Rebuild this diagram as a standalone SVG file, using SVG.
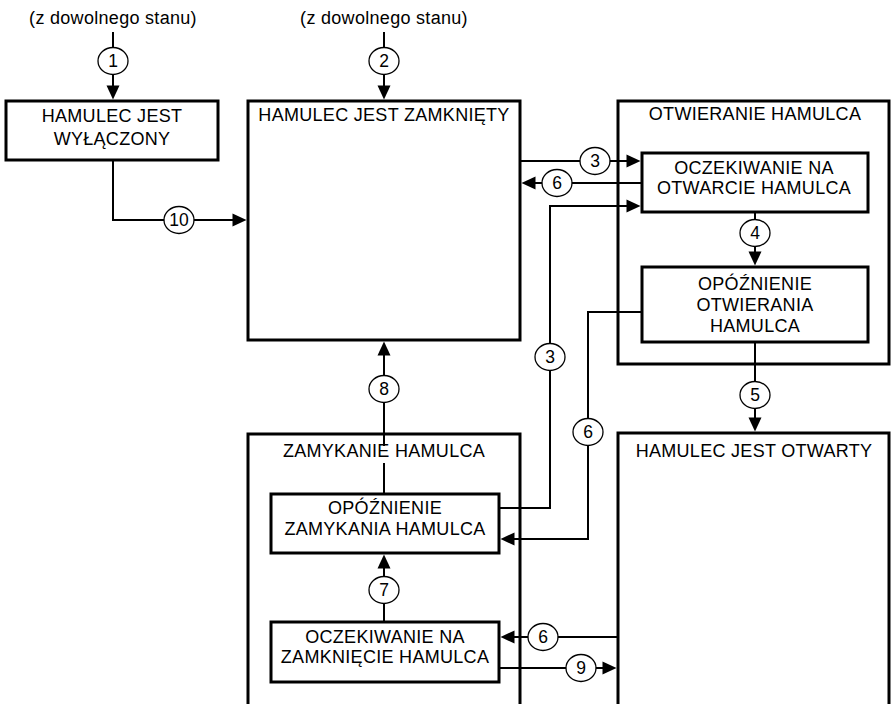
<svg xmlns="http://www.w3.org/2000/svg" width="892" height="704" viewBox="0 0 892 704">
  <style>
    text { font-family: "Liberation Sans", Arial, sans-serif; font-size: 18px; letter-spacing: 0.3px; fill: #000; text-anchor: middle; }
    .box { fill: none; stroke: #000; stroke-width: 3; }
    .wire { fill: none; stroke: #000; stroke-width: 2; }
    .tip { fill: #000; stroke: none; }
    .tag ellipse { fill: #fff; stroke: #000; stroke-width: 1.3; }
    .tag text { font-size: 17.5px; letter-spacing: 0; }
  </style>
  <defs>
    <!-- arrowhead pointing in +x, tip at origin -->
    <polygon id="head" points="0,0 -14,-6.5 -14,6.5"/>
  </defs>

  <!-- entry labels -->
  <text x="113" y="24">(z dowolnego stanu)</text>
  <text x="384" y="24">(z dowolnego stanu)</text>

  <!-- states -->
  <g id="hamulec-wylaczony">
    <rect class="box" x="6" y="101" width="212" height="59"/>
    <text x="112" y="122">HAMULEC JEST</text>
    <text x="112" y="145">WYŁĄCZONY</text>
  </g>

  <g id="hamulec-zamkniety">
    <rect class="box" x="248" y="101" width="272" height="239"/>
    <text x="384" y="121">HAMULEC JEST ZAMKNIĘTY</text>
  </g>

  <g id="otwieranie-hamulca">
    <rect class="box" x="618" y="101" width="271" height="263"/>
    <text x="755" y="120">OTWIERANIE HAMULCA</text>
  </g>

  <g id="oczekiwanie-na-otwarcie">
    <rect class="box" x="642" y="153" width="226" height="59"/>
    <text x="754" y="174">OCZEKIWANIE NA</text>
    <text x="754" y="194">OTWARCIE HAMULCA</text>
  </g>

  <g id="opoznienie-otwierania">
    <rect class="box" x="642" y="267" width="226" height="75"/>
    <text x="755" y="290">OPÓŹNIENIE</text>
    <text x="755" y="311">OTWIERANIA</text>
    <text x="755" y="332">HAMULCA</text>
  </g>

  <g id="hamulec-otwarty">
    <path class="box" d="M618,710 V433 H889 V710"/>
    <text x="754" y="457">HAMULEC JEST OTWARTY</text>
  </g>

  <g id="zamykanie-hamulca">
    <path class="box" d="M248,710 V434 H520 V710"/>
    <text x="384" y="457">ZAMYKANIE HAMULCA</text>
  </g>

  <g id="opoznienie-zamykania">
    <rect class="box" x="271" y="494" width="228" height="59"/>
    <text x="385" y="514">OPÓŹNIENIE</text>
    <text x="385" y="535">ZAMYKANIA HAMULCA</text>
  </g>

  <g id="oczekiwanie-na-zamkniecie">
    <rect class="box" x="271" y="622" width="228" height="60"/>
    <text x="385" y="643">OCZEKIWANIE NA</text>
    <text x="385" y="663">ZAMKNIĘCIE HAMULCA</text>
  </g>

  <!-- transitions -->
  <g id="connectors">
    <path class="wire" d="M113,32 V88"/>
    <path class="wire" d="M384,32 V88"/>
    <path class="wire" d="M113,160 V220 H235"/>
    <path class="wire" d="M521,161 H629"/>
    <path class="wire" d="M642,183 H534"/>
    <path class="wire" d="M499,508 H550 V206 H629"/>
    <path class="wire" d="M642,312 H588 V539 H512"/>
    <path class="wire" d="M755,212 V253"/>
    <path class="wire" d="M755,342 V419"/>
    <path class="wire" d="M384,494 V463 M384,446 V354"/>
    <path class="wire" d="M384,622 V567"/>
    <path class="wire" d="M618,637 H512"/>
    <path class="wire" d="M499,668 H604"/>

    <use class="tip" href="#head" transform="translate(113,99.5) rotate(90)"/>
    <use class="tip" href="#head" transform="translate(384,99.5) rotate(90)"/>
    <use class="tip" href="#head" transform="translate(246.5,220)"/>
    <use class="tip" href="#head" transform="translate(640.5,161)"/>
    <use class="tip" href="#head" transform="translate(521.5,183) rotate(180)"/>
    <use class="tip" href="#head" transform="translate(640.5,206)"/>
    <use class="tip" href="#head" transform="translate(500.5,539) rotate(180)"/>
    <use class="tip" href="#head" transform="translate(755,265.5) rotate(90)"/>
    <use class="tip" href="#head" transform="translate(755,431.5) rotate(90)"/>
    <use class="tip" href="#head" transform="translate(384,341.5) rotate(-90)"/>
    <use class="tip" href="#head" transform="translate(384,554.5) rotate(-90)"/>
    <use class="tip" href="#head" transform="translate(500.5,637) rotate(180)"/>
    <use class="tip" href="#head" transform="translate(616.5,668)"/>

    <g class="tag"><ellipse cx="113" cy="61" rx="15" ry="13.5"/><text x="113" y="67">1</text></g>
    <g class="tag"><ellipse cx="384" cy="61" rx="15" ry="13.5"/><text x="384" y="67">2</text></g>
    <g class="tag"><ellipse cx="179" cy="220" rx="15" ry="13.5"/><text x="179" y="226">10</text></g>
    <g class="tag"><ellipse cx="595" cy="161" rx="15" ry="13.5"/><text x="595" y="167">3</text></g>
    <g class="tag"><ellipse cx="557" cy="183" rx="15" ry="13.5"/><text x="557" y="189">6</text></g>
    <g class="tag"><ellipse cx="755" cy="233" rx="15" ry="13.5"/><text x="755" y="239">4</text></g>
    <g class="tag"><ellipse cx="550" cy="357" rx="15" ry="13.5"/><text x="550" y="363">3</text></g>
    <g class="tag"><ellipse cx="588" cy="432" rx="15" ry="13.5"/><text x="588" y="438">6</text></g>
    <g class="tag"><ellipse cx="755" cy="395" rx="15" ry="13.5"/><text x="755" y="401">5</text></g>
    <g class="tag"><ellipse cx="384" cy="389" rx="15" ry="13.5"/><text x="384" y="395">8</text></g>
    <g class="tag"><ellipse cx="384" cy="590" rx="15" ry="13.5"/><text x="384" y="596">7</text></g>
    <g class="tag"><ellipse cx="543" cy="637" rx="15" ry="13.5"/><text x="543" y="643">6</text></g>
    <g class="tag"><ellipse cx="581" cy="668" rx="15" ry="13.5"/><text x="581" y="674">9</text></g>
  </g>
</svg>
